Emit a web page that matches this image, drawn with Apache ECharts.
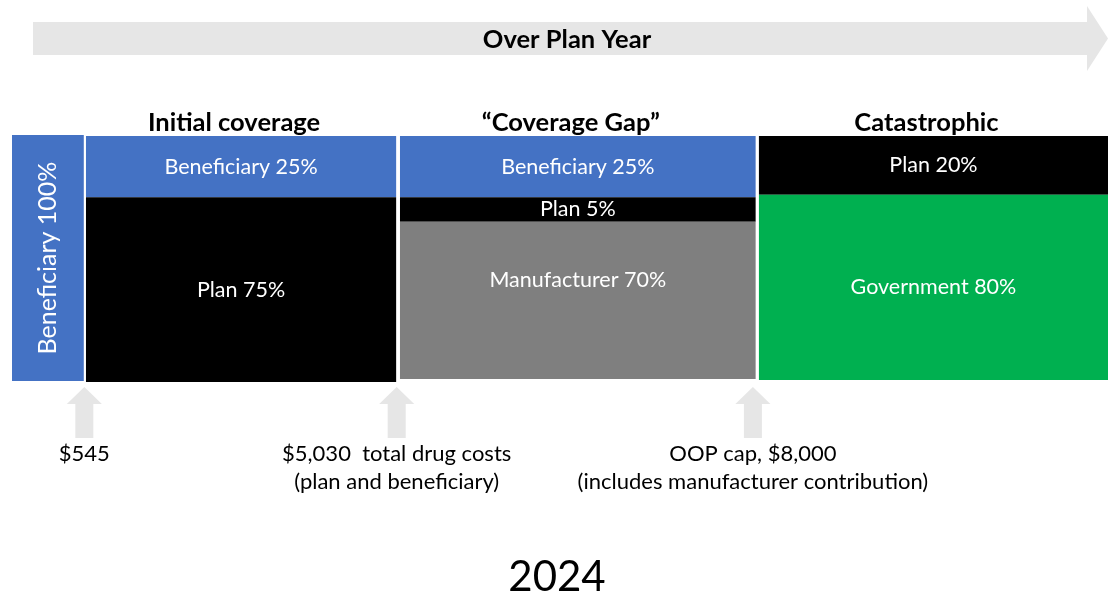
<!DOCTYPE html>
<html><head><meta charset="utf-8">
<script src="https://cdn.jsdelivr.net/npm/echarts@6/dist/echarts.min.js"></script>
<style>html,body{margin:0;padding:0;background:#fff}#c{width:1108px;height:595px}</style>
</head><body><div id="c"></div>
<script>
// ---- data ----
const phaseNames = ['', 'Initial coverage', '“Coverage Gap”', 'Catastrophic'];
const phaseStart = [0, 6.75, 35.4, 68.15];      // plan-year progress (0-100)
const phaseEnd   = [6.55, 35.05, 67.85, 100];
const segPhase = [0, 1, 1, 2, 2, 2, 3, 3];
const segPayer = ['Beneficiary', 'Beneficiary', 'Plan', 'Beneficiary', 'Plan', 'Manufacturer', 'Plan', 'Government'];
const segShare = [100, 25, 75, 25, 5, 70, 20, 80];
const segLow   = [0, 75, -0.4, 75, 65, 0.8, 76, 0.4];     // drawn extent of each block (0-100)
const segHigh  = [100.4, 100, 75, 100, 75, 65, 100, 76];
const milestoneX = [6.6, 35.1, 67.6];
const milestoneLabels = ['$545', '$5,030  total drug costs\n(plan and beneficiary)', 'OOP cap, $8,000\n(includes manufacturer contribution)'];
const headerText = 'Over Plan Year';
const yearText = '2024';

// ---- styles ----
const FONT = 'Lato, "Open Sans", sans-serif';
const payerColor = { Beneficiary: '#4472C4', Plan: '#000000', Manufacturer: '#7F7F7F', Government: '#00B050' };
const labelShift = { Manufacturer: -20 };

const chart = echarts.init(document.getElementById('c'), null, { renderer: 'canvas' });

function renderBlock(params, api) {
  const i = api.value(0);
  const p = segPhase[i];
  const tl = api.coord([phaseStart[p], segHigh[i]]);
  const br = api.coord([phaseEnd[p], segLow[i]]);
  const x = tl[0], y = tl[1], w = br[0] - tl[0], h = br[1] - tl[1];
  const vertical = p === 0;
  const dy = labelShift[segPayer[i]] || 0;
  return {
    type: 'group',
    children: [
      { type: 'rect', shape: { x: x, y: y, width: w, height: h }, style: { fill: payerColor[segPayer[i]] } },
      {
        type: 'text', x: x + w / 2, y: y + h / 2 + dy, rotation: vertical ? Math.PI / 2 : 0,
        style: {
          text: segPayer[i] + ' ' + segShare[i] + '%', fill: '#ffffff',
          font: (vertical ? '25px ' : '21.5px ') + FONT, align: 'center', verticalAlign: 'middle'
        }
      }
    ]
  };
}

function renderHeading(params, api) {
  const p = api.value(0);
  const a = api.coord([phaseStart[p], 100]);
  const b = api.coord([phaseEnd[p], 100]);
  return {
    type: 'text', x: (a[0] + b[0]) / 2 - 7, y: a[1] - 13,
    style: { text: phaseNames[p], fill: '#000', font: 'bold 25.5px ' + FONT, align: 'center', verticalAlign: 'middle' }
  };
}

function renderMilestone(params, api) {
  const i = params.dataIndex;
  const c = api.coord([api.value(0), 0]);
  const cx = c[0], by = c[1];
  const tip = by + 6, hb = by + 23, sb = by + 57, hw = 17.5, sw = 9;
  return {
    type: 'group',
    children: [
      {
        type: 'polygon',
        shape: { points: [[cx, tip], [cx + hw, hb], [cx + sw, hb], [cx + sw, sb], [cx - sw, sb], [cx - sw, hb], [cx - hw, hb]] },
        style: { fill: '#E6E6E6' }
      },
      {
        type: 'text', x: cx, y: sb + 2,
        style: { text: milestoneLabels[i], fill: '#000', font: '22px ' + FONT, align: 'center', verticalAlign: 'top', lineHeight: 28 }
      }
    ]
  };
}

const W = 1108;
chart.setOption({
  animation: false,
  backgroundColor: '#ffffff',
  grid: { left: 12, right: 0, top: 136, height: 245 },
  xAxis: { type: 'value', min: 0, max: 100, show: false },
  yAxis: { type: 'value', min: 0, max: 100, show: false },
  graphic: [
    {
      type: 'polygon', z: 0,
      shape: { points: [[33, 22], [W - 21, 22], [W - 21, 6], [W, 38.5], [W - 21, 71], [W - 21, 55], [33, 55]] },
      style: { fill: '#E6E6E6' }
    },
    {
      type: 'text', x: 567, y: 40,
      style: { text: headerText, fill: '#000', font: 'bold 25.5px ' + FONT, align: 'center', verticalAlign: 'middle' }
    },
    {
      type: 'text', x: 557, y: 577,
      style: { text: yearText, fill: '#000', font: '42px ' + FONT, align: 'center', verticalAlign: 'middle' }
    }
  ],
  series: [
    { type: 'custom', renderItem: renderBlock, data: segPhase.map((_, i) => [i]), clip: false },
    { type: 'custom', renderItem: renderHeading, data: [[1], [2], [3]], clip: false },
    { type: 'custom', renderItem: renderMilestone, data: milestoneX.map(v => [v]), clip: false }
  ]
});
</script></body></html>
